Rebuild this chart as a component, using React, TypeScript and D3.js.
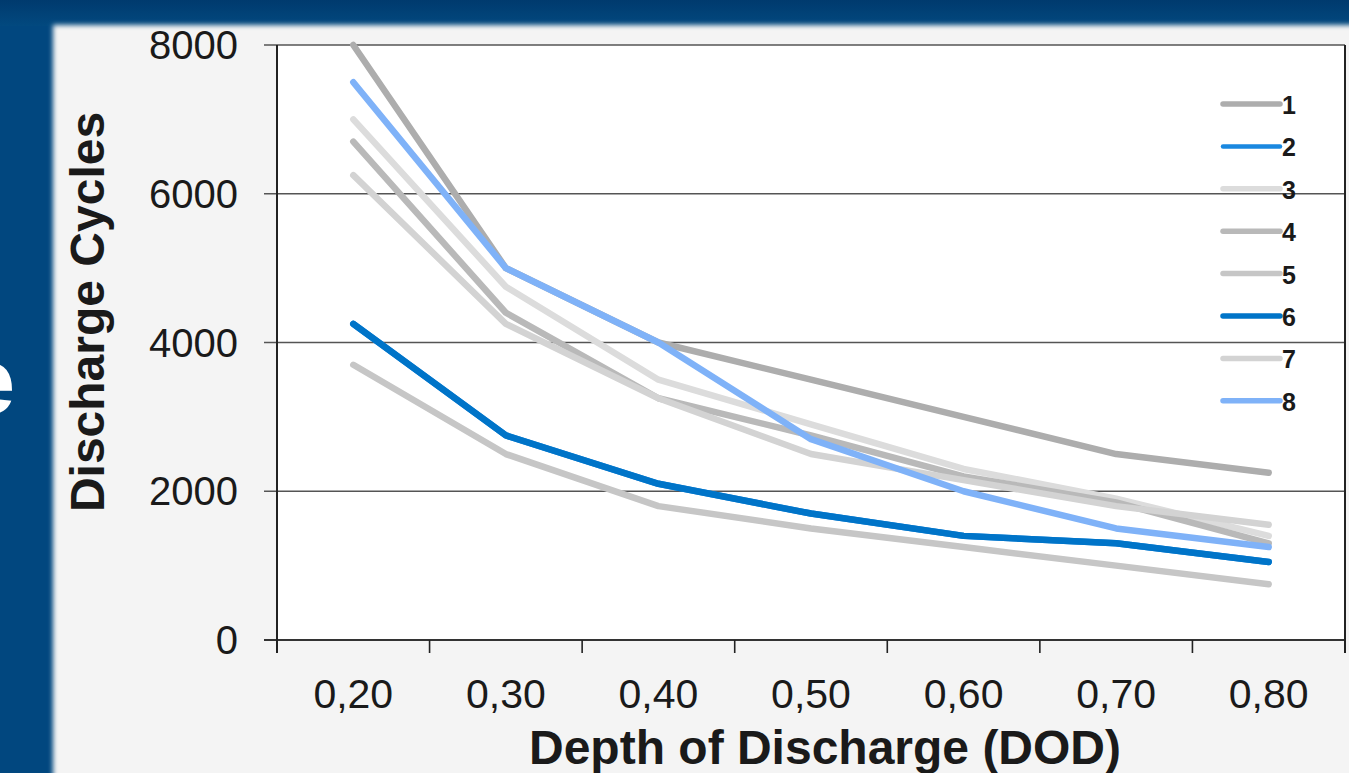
import React from "react";
import * as d3 from "d3";

const categories = ["0,20", "0,30", "0,40", "0,50", "0,60", "0,70", "0,80"];
const seriesNames = ["1", "2", "3", "4", "5", "6", "7", "8"];
const series1 = [8000, 5000, 4000, 3500, 3000, 2500, 2250];
const series2 = [4250, 2750, 2100, 1700, 1400, 1300, 1050];
const series3 = [7000, 4750, 3500, 2900, 2300, 1900, 1400];
const series4 = [6700, 4400, 3250, 2750, 2200, 1850, 1300];
const series5 = [3700, 2500, 1800, 1500, 1250, 1000, 750];
const series6 = [4250, 2750, 2100, 1700, 1400, 1300, 1050];
const series7 = [6250, 4250, 3250, 2500, 2150, 1800, 1550];
const series8 = [7500, 5000, 4000, 2700, 2000, 1500, 1250];
const seriesValues = [series1, series2, series3, series4, series5, series6, series7, series8];
const seriesColors = ["#adadad", "#1a88e0", "#dcdcdc", "#b9b9b9", "#c6c6c6", "#0074c8", "#d3d3d3", "#7fb2f8"];
const yTicks = [0, 2000, 4000, 6000, 8000];

const W = 1349;
const H = 773;
const plot = { left: 277, right: 1345, top: 45, bottom: 640 };
const FONT = "'Liberation Sans', Arial, Helvetica, sans-serif";

export default function App() {
  const x = d3.scalePoint<string>().domain(categories).range([plot.left, plot.right]).padding(0.5);
  const step = x.step();
  const y = d3.scaleLinear().domain([0, 8000]).range([plot.bottom, plot.top]);
  const line = d3
    .line<number>()
    .x((_, i) => x(categories[i]) as number)
    .y((d) => y(d));

  const xTickPos = d3.range(categories.length + 1).map((i) => plot.left + i * step);

  const legendX1 = 1223;
  const legendX2 = 1280;
  const legendY0 = 104;
  const legendStep = 42.4;

  return (
    <svg
      width={W}
      height={H}
      style={{ position: "absolute", left: 0, top: 0, display: "block" }}
      fontFamily={FONT}
    >
      <defs>
        <linearGradient id="topband" x1="0" y1="0" x2="0" y2="1">
          <stop offset="0" stopColor="#003a6e" />
          <stop offset="1" stopColor="#02497f" />
        </linearGradient>
        <filter id="blur" x="-5%" y="-5%" width="110%" height="110%">
          <feGaussianBlur stdDeviation="2.5" />
        </filter>
      </defs>
      <rect x={0} y={0} width={W} height={H} fill="#01477f" />
      <rect x={0} y={0} width={W} height={26} fill="url(#topband)" />
      <rect x={53} y={25} width={W} height={H} fill="#f4f4f4" filter="url(#blur)" />
      <text x={-36} y={413} fontSize={92} fontWeight="bold" fill="#ffffff">
        e
      </text>

      {/* plot background */}
      <rect x={plot.left} y={plot.top} width={plot.right - plot.left} height={plot.bottom - plot.top} fill="#ffffff" />

      {/* gridlines and y ticks */}
      {yTicks.map((t) => (
        <line
          key={"g" + t}
          x1={264}
          x2={plot.right}
          y1={y(t)}
          y2={y(t)}
          stroke={t === 0 ? "#333" : "#555"}
          strokeWidth={t === 0 ? 1.8 : 1.4}
        />
      ))}
      {yTicks.map((t) => (
        <text
          key={"yl" + t}
          x={238}
          y={y(t)}
          textAnchor="end"
          dominantBaseline="central"
          fontSize={40}
          fill="#1a1a1a"
        >
          {t}
        </text>
      ))}

      {/* left axis */}
      <line x1={plot.left} x2={plot.left} y1={plot.top} y2={plot.bottom + 13} stroke="#222" strokeWidth={2} />
      {/* right border */}
      <line x1={plot.right} x2={plot.right} y1={plot.top} y2={plot.bottom + 13} stroke="#222" strokeWidth={2} />

      {/* x ticks */}
      {xTickPos.map((p, i) => (
        <line key={"xt" + i} x1={p} x2={p} y1={plot.bottom} y2={plot.bottom + 13} stroke="#222" strokeWidth={1.6} />
      ))}
      {categories.map((c) => (
        <text key={"xl" + c} x={x(c)} y={708} textAnchor="middle" fontSize={41} fill="#1a1a1a">
          {c}
        </text>
      ))}

      {/* series */}
      {seriesValues.map((vals, i) => (
        <path
          key={"s" + i}
          d={line(vals) as string}
          fill="none"
          stroke={seriesColors[i]}
          strokeWidth={6.5}
          strokeLinecap="round"
          strokeLinejoin="round"
        />
      ))}

      {/* legend */}
      {seriesNames.map((n, i) => {
        const ly = legendY0 + i * legendStep;
        return (
          <g key={"lg" + n}>
            <line
              x1={legendX1}
              x2={legendX2}
              y1={ly}
              y2={ly}
              stroke={seriesColors[i]}
              strokeWidth={i === 1 ? 4.5 : 5.5}
              strokeLinecap="round"
            />
            <text x={legendX2 + 2} y={ly + 1} dominantBaseline="central" fontSize={25} fontWeight="bold" fill="#1a1a1a">
              {n}
            </text>
          </g>
        );
      })}

      {/* axis titles */}
      <text x={825} y={764} textAnchor="middle" fontSize={48} fontWeight="bold" fill="#1a1a1a">
        Depth of Discharge (DOD)
      </text>
      <text
        transform="translate(104,312) rotate(-90)"
        textAnchor="middle"
        fontSize={48}
        fontWeight="bold"
        fill="#1a1a1a"
      >
        Discharge Cycles
      </text>
    </svg>
  );
}
